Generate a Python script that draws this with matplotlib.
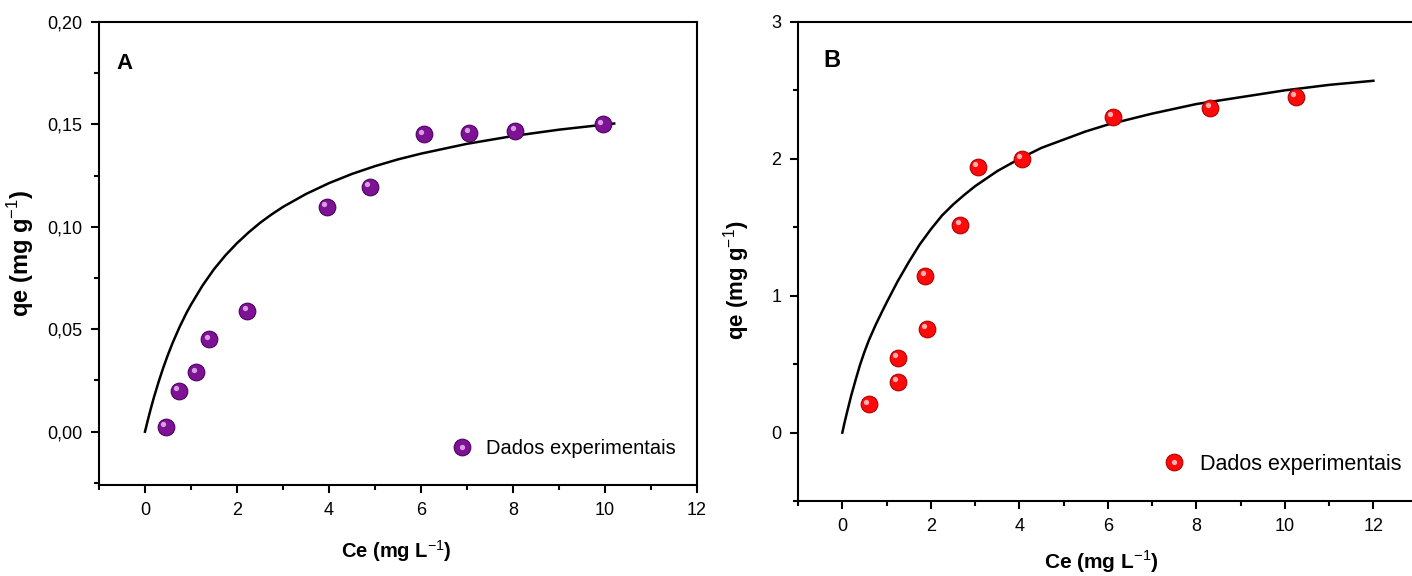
import matplotlib
matplotlib.use("Agg")
import matplotlib.pyplot as plt
from matplotlib.ticker import MultipleLocator, FuncFormatter
from matplotlib.transforms import ScaledTranslation
from matplotlib.legend_handler import HandlerTuple

# ---- data ----
ce_a = [0.45, 0.73, 1.11, 1.40, 2.22, 3.95, 4.89, 6.06, 7.05, 8.05, 9.95]
qe_a = [0.0025, 0.0198, 0.029, 0.0451, 0.0588, 0.1097, 0.1196, 0.1451, 0.1460, 0.1469, 0.1500]
fit_x_a = [0, 0.05, 0.1, 0.15, 0.2, 0.3, 0.4, 0.5, 0.6, 0.75, 0.9, 1.0, 1.25, 1.5, 1.75, 2.0,
           2.25, 2.5, 2.75, 3.0, 3.5, 4, 4.5, 5, 5.5, 6, 7, 8, 9, 10.2]
fit_y_a = [0, 0.0046, 0.009, 0.0132, 0.0172, 0.0246, 0.0314, 0.0376, 0.0433, 0.0510, 0.0579,
           0.0620, 0.0713, 0.0793, 0.0861, 0.0920, 0.0972, 0.1019, 0.1060, 0.1097, 0.1160,
           0.1213, 0.1258, 0.1296, 0.1329, 0.1357, 0.1405, 0.1443, 0.1474, 0.1504]

ce_b = [0.60, 1.25, 1.25, 1.87, 1.91, 2.66, 3.06, 4.05, 6.11, 8.31, 10.24]
qe_b = [0.207, 0.371, 0.546, 1.146, 0.756, 1.515, 1.942, 1.999, 2.306, 2.373, 2.454]
fit_x_b = [0, 0.05, 0.1, 0.15, 0.2, 0.3, 0.4, 0.5, 0.6, 0.75, 0.9, 1.0, 1.25, 1.5, 1.75, 2.0,
           2.25, 2.5, 2.75, 3.0, 3.5, 4, 4.5, 5, 5.5, 6, 7, 8, 9, 10, 11, 12]
fit_y_b = [0, 0.073, 0.14, 0.205, 0.27, 0.385, 0.495, 0.59, 0.675, 0.785, 0.885, 0.95, 1.105,
           1.245, 1.375, 1.485, 1.585, 1.665, 1.735, 1.80, 1.91, 2.00, 2.08, 2.14, 2.20, 2.25,
           2.33, 2.40, 2.45, 2.50, 2.54, 2.57]

legend_label = "Dados experimentais"

plt.rcParams['font.family'] = ['Liberation Sans', 'DejaVu Sans']
plt.rcParams['mathtext.fontset'] = 'custom'
plt.rcParams['mathtext.rm'] = 'Liberation Sans'
plt.rcParams['mathtext.bf'] = 'Liberation Sans:bold'

fig = plt.figure(figsize=(14.12, 5.76), dpi=100)
axA = fig.add_axes([0.0701, 0.158, 0.4235, 0.804])
axB = fig.add_axes([0.5652, 0.130, 0.4388, 0.832])

comma = FuncFormatter(lambda v, p: ("%.2f" % v).replace('.', ','))


def style(ax, tickfs):
    for s in ax.spines.values():
        s.set_linewidth(1.5)
    ax.tick_params(which='both', direction='out', width=1.5, labelsize=tickfs, pad=6)
    ax.tick_params(which='major', length=6)
    ax.tick_params(which='minor', length=3.5)


def spheres(ax, x, y, face, edge, hl):
    base, = ax.plot(x, y, 'o', ms=12, mfc=face, mec=edge, mew=0.8, ls='none', zorder=3)
    off = ScaledTranslation(-1.8 / 72, 2.0 / 72, fig.dpi_scale_trans)
    ax.plot(x, y, 'o', ms=3.8, mfc=hl, mec='none', alpha=0.85, ls='none',
            transform=ax.transData + off, zorder=4)
    h2, = ax.plot([], [], 'o', ms=3.8, mfc=hl, mec='none', alpha=0.85, ls='none')
    return base, h2


# ---- Panel A ----
axA.plot(fit_x_a, fit_y_a, color='black', lw=1.8, zorder=2)
hA = spheres(axA, ce_a, qe_a, '#7d1394', '#4d0060', '#e8b8f0')
axA.set_xlim(-1, 12)
axA.set_ylim(-0.026, 0.20)
axA.xaxis.set_major_locator(MultipleLocator(2))
axA.xaxis.set_minor_locator(MultipleLocator(1))
axA.yaxis.set_major_locator(MultipleLocator(0.05))
axA.yaxis.set_minor_locator(MultipleLocator(0.025))
axA.yaxis.set_major_formatter(comma)
style(axA, 13)
axA.set_xlabel(r'Ce (mg L$^{\mathrm{-1}}$)', fontsize=14.5, fontweight='bold')
axA.xaxis.set_label_coords(0.497, -0.114)
axA.set_ylabel(r'qe (mg g$^{\mathrm{-1}}$)', fontsize=17, fontweight='bold')
axA.yaxis.set_label_coords(-0.105, 0.50)
axA.text(0.042, 0.91, 'A', transform=axA.transAxes, fontsize=16, fontweight='bold',
         va='center', ha='center')
axA.legend([hA], [legend_label], handler_map={tuple: HandlerTuple(ndivide=1)},
           loc='lower right', bbox_to_anchor=(0.995, 0.02), frameon=False,
           fontsize=14.5, handletextpad=0.6, handlelength=1.2)

# ---- Panel B ----
axB.plot(fit_x_b, fit_y_b, color='black', lw=1.8, zorder=2)
hB = spheres(axB, ce_b, qe_b, '#ff0a0a', '#b00000', '#ffd0d0')
axB.set_xlim(-1, 13)
axB.set_ylim(-0.5, 3)
axB.xaxis.set_major_locator(MultipleLocator(2))
axB.xaxis.set_minor_locator(MultipleLocator(1))
axB.yaxis.set_major_locator(MultipleLocator(1))
axB.yaxis.set_minor_locator(MultipleLocator(0.5))
style(axB, 13)
axB.set_xlabel(r'Ce (mg L$^{\mathrm{-1}}$)', fontsize=15, fontweight='bold')
axB.xaxis.set_label_coords(0.489, -0.098)
axB.set_ylabel(r'qe (mg g$^{\mathrm{-1}}$)', fontsize=16, fontweight='bold')
axB.yaxis.set_label_coords(-0.075, 0.46)
axB.text(0.055, 0.92, 'B', transform=axB.transAxes, fontsize=17, fontweight='bold',
         va='center', ha='center')
axB.legend([hB], [legend_label], handler_map={tuple: HandlerTuple(ndivide=1)},
           loc='lower left', bbox_to_anchor=(0.555, 0.015), frameon=False,
           fontsize=15.5, handletextpad=0.6, handlelength=1.2)

fig.savefig('out.png', dpi=100)
